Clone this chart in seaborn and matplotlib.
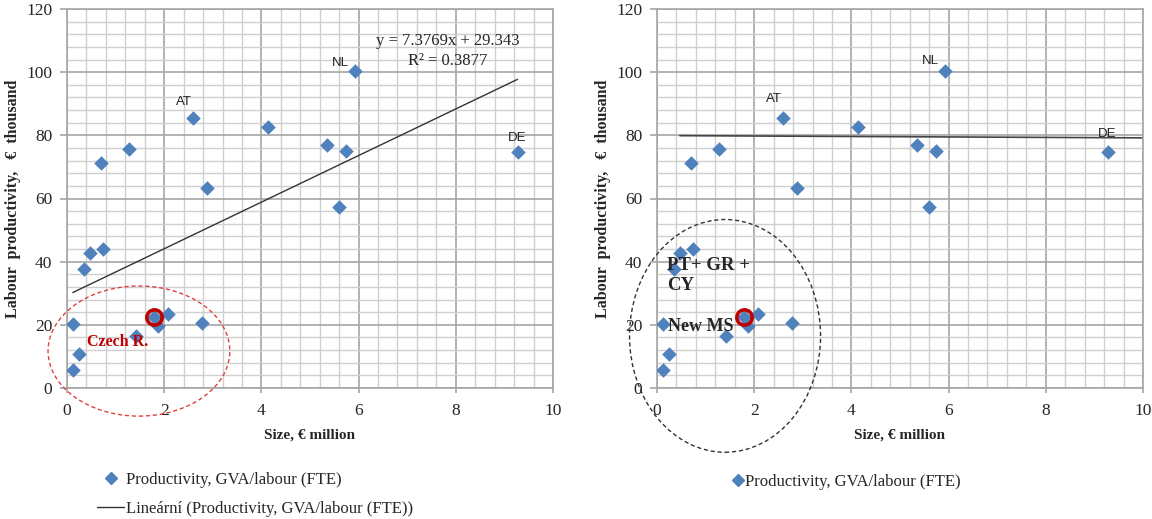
import numpy as np
import matplotlib
matplotlib.use("Agg")
import matplotlib.pyplot as plt
from matplotlib.patches import Ellipse
from matplotlib.lines import Line2D
from matplotlib.ticker import MultipleLocator
import seaborn as sns

# member states: size (EUR million) vs labour productivity (EUR thousand)
size = [0.12, 0.25, 0.12, 0.35, 0.47, 0.74, 0.69, 1.28, 2.60, 2.89, 4.13,
        5.36, 5.75, 5.59, 5.92, 9.27, 1.42, 1.78, 1.88, 2.08, 2.77]
prod = [5.7, 10.8, 20.2, 37.7, 42.7, 44.0, 71.2, 75.7, 85.4, 63.2, 82.6,
        76.9, 75.0, 57.2, 100.4, 74.8, 16.5, 22.6, 19.6, 23.3, 20.7]
czech_idx = 17

# labelled countries
labels = ["AT", "NL", "DE"]
label_x = [2.41, 5.62, 9.27]
label_y_left = [90.5, 102.8, 79.0]
label_y_right = [91.5, 103.5, 80.5]

# trend lines
trend_slope = 7.3769
trend_intercept = 29.343
trend_r2 = 0.3877
trend2_x = [0.47, 9.98]
trend2_y = [79.9, 79.2]

x_ticks = [0, 2, 4, 6, 8, 10]
y_ticks = [0, 20, 40, 60, 80, 100, 120]

BLUE = "#4F81BD"
SERIF = "Liberation Serif"

sns.set_theme(style="white")
plt.rcParams["font.family"] = [SERIF, "DejaVu Serif"]

fig = plt.figure(figsize=(11.52, 5.19), dpi=100)
ax1 = fig.add_axes([67 / 1152, 1 - 388 / 519, 486 / 1152, 379 / 519])
ax2 = fig.add_axes([657 / 1152, 1 - 388 / 519, 486 / 1152, 379 / 519])


def style_axes(ax, label_y):
    ax.set_xlim(0, 10)
    ax.set_ylim(0, 120)
    ax.set_xticks(x_ticks)
    ax.set_yticks(y_ticks)
    ax.xaxis.set_minor_locator(MultipleLocator(0.4))
    ax.yaxis.set_minor_locator(MultipleLocator(4))
    ax.grid(True, which="minor", color="#CFCFCF", linewidth=1.0)
    ax.grid(True, which="major", color="#A6A6A6", linewidth=1.2)
    ax.set_axisbelow(True)
    for sp in ax.spines.values():
        sp.set_color("#A6A6A6")
        sp.set_linewidth(1.2)
    ax.tick_params(axis="x", which="major", length=3.6, width=1.2, color="#A6A6A6",
                   labelsize=12.5, pad=7, direction="out", bottom=True)
    ax.tick_params(axis="y", which="major", length=5, width=1.2, color="#A6A6A6",
                   labelsize=12.5, pad=5.5, direction="out", left=True)
    ax.tick_params(which="minor", length=0)
    ax.set_xlabel("Size, € million", fontsize=11, fontweight="bold", labelpad=7)
    ax.set_ylabel("Labour  productivity,   €  thousand", fontsize=11.5,
                  fontweight="bold", labelpad=4)
    for lab, lx, ly in zip(labels, label_x, label_y):
        ax.text(lx, ly, lab, family="Liberation Sans", fontsize=9.5,
                ha="center", va="center", color="#222222")


def draw_points(ax):
    sns.scatterplot(x=size, y=prod, marker="D", color=BLUE, s=55,
                    edgecolor=BLUE, linewidth=0, ax=ax, legend=False, zorder=3)
    ax.plot(size[czech_idx], prod[czech_idx], marker="o", markersize=11,
            markerfacecolor="none", markeredgecolor="#C00000",
            markeredgewidth=2.6, zorder=4)


# ---- left panel ----
style_axes(ax1, label_y_left)
draw_points(ax1)
xs = np.array([min(size), max(size)])
ax1.plot(xs, trend_slope * xs + trend_intercept, color="#333333", linewidth=1.0, zorder=2)
ax1.text(7.84, 110, f"y = {trend_slope}x + {trend_intercept}", fontsize=12,
         ha="center", va="center")
ax1.text(7.84, 103.5, f"R² = {trend_r2}", fontsize=12, ha="center", va="center")
ax1.add_patch(Ellipse((1.48, 11.7), 3.74, 41.2, fill=False, edgecolor="#E04040",
                      linestyle=(0, (3, 2)), linewidth=1.0, clip_on=False, zorder=5))
ax1.text(1.05, 14.6, "Czech R.", color="#C00000", fontsize=11.5,
         fontweight="bold", ha="center", va="center")

h_pt = Line2D([], [], linestyle="none", marker="D", color=BLUE, markersize=6)
h_ln = Line2D([], [], color="#333333", linewidth=1.0)
ax1.legend([h_pt, h_ln],
           ["Productivity, GVA/labour (FTE)",
            "Lineární (Productivity, GVA/labour (FTE))"],
           loc="upper center", bbox_to_anchor=(0.387, -0.182), frameon=False,
           fontsize=12, handlelength=1.6, handletextpad=0.1, labelspacing=0.8)

# ---- right panel ----
style_axes(ax2, label_y_right)
draw_points(ax2)
ax2.plot(trend2_x, trend2_y, color="#444444", linewidth=1.2, zorder=2)
ax2.add_patch(Ellipse((1.40, 16.5), 3.93, 73.7, fill=False, edgecolor="#333333",
                      linestyle=(0, (3, 2)), linewidth=1.0, clip_on=False, zorder=5))
ax2.text(0.21, 38.9, "PT+ GR +", fontsize=13.5, fontweight="bold",
         ha="left", va="center", zorder=6)
ax2.text(0.21, 32.3, "CY", fontsize=13.5, fontweight="bold",
         ha="left", va="center", zorder=6)
ax2.text(0.22, 19.4, "New MS", fontsize=13, fontweight="bold",
         ha="left", va="center", zorder=6)
ax2.legend([h_pt], ["Productivity, GVA/labour (FTE)"],
           loc="upper center", bbox_to_anchor=(0.39, -0.187), frameon=False,
           fontsize=12, handlelength=0.6, handletextpad=0.1)

fig.savefig("out.png", dpi=100, facecolor="white")
